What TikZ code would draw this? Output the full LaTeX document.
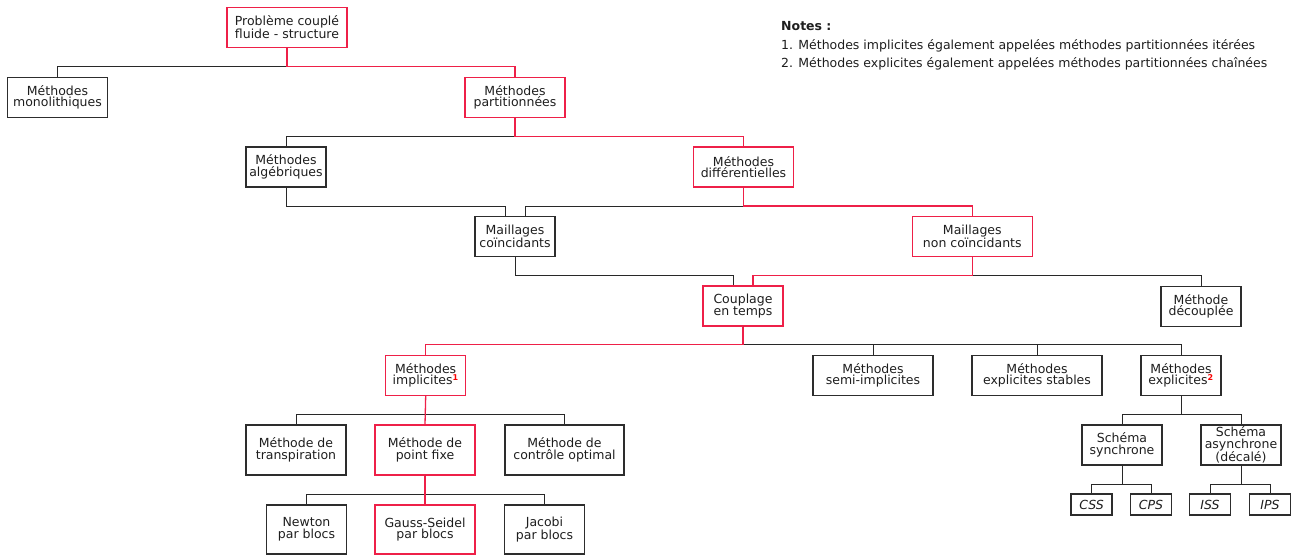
\documentclass[tikz,border=0pt]{standalone}
\usepackage{fontspec}
\setmainfont{DejaVu Sans}
\definecolor{hred}{RGB}{238,32,72}
\definecolor{supred}{RGB}{250,0,0}
\definecolor{boxgray}{RGB}{45,45,45}
\definecolor{linegray}{RGB}{40,40,40}
\definecolor{txt}{RGB}{30,30,30}
\newcommand\fsz{\fontsize{12.5}{11.8}\selectfont}
\newcommand\supmark[1]{\textsuperscript{\color{supred}\bfseries\fontsize{8}{8}\selectfont #1}}
\tikzset{
  box/.style={draw=boxgray, line width=1.2pt, rectangle, inner sep=0pt, align=center, font=\fsz, text=txt},
  rbox/.style={box, draw=hred, line width=1.3pt},
  bl/.style={draw=linegray, line width=1pt},
  rl/.style={draw=hred, line width=1.3pt},
  notetext/.style={anchor=base west, inner sep=0pt, font=\fsz, text=txt}
}
\begin{document}
\begin{tikzpicture}[x=1pt,y=-1pt]
\path[use as bounding box] (0,0) rectangle (1304,555);
% nodes
\node[rbox, minimum width=120, minimum height=40] (prob) at (287,27.5) {Problème couplé\\fluide - structure};
\node[box, minimum width=100, minimum height=40] (mono) at (57.5,97.3) {Méthodes\\monolithiques};
\node[rbox, minimum width=100, minimum height=40] (part) at (515,97.3) {Méthodes\\partitionnées};
\node[box, minimum width=80, minimum height=40] (alg) at (286,167) {Méthodes\\algébriques};
\node[rbox, minimum width=100, minimum height=40] (diff) at (743.5,167) {Méthodes\\différentielles};
\node[box, minimum width=80, minimum height=40] (mc) at (515,236.7) {Maillages\\coïncidants};
\node[rbox, minimum width=120, minimum height=40] (mnc) at (972.3,236.5) {Maillages\\non coïncidants};
\node[rbox, minimum width=80, minimum height=40] (coup) at (743,306) {Couplage\\en temps};
\node[box, minimum width=80, minimum height=40] (dec) at (1201,306.3) {Méthode\\découplée};
\node[rbox, minimum width=80, minimum height=40] (impl) at (425.7,375.3) {Méthodes\\implicites\supmark{1}};
\node[box, minimum width=120, minimum height=40] (semi) at (873,375.3) {Méthodes\\semi-implicites};
\node[box, minimum width=130, minimum height=40] (stab) at (1037,375.3) {Méthodes\\explicites stables};
\node[box, minimum width=80, minimum height=40] (expl) at (1181,375.3) {Méthodes\\explicites\supmark{2}};
\node[box, minimum width=100, minimum height=50] (transp) at (296,450) {Méthode de\\transpiration};
\node[rbox, minimum width=100, minimum height=50] (pfixe) at (425,450) {Méthode de\\point fixe};
\node[box, minimum width=119, minimum height=50] (ctrl) at (564.5,450) {Méthode de\\contrôle optimal};
\node[box, minimum width=80, minimum height=49] (newton) at (306.5,529.5) {Newton\\par blocs};
\node[rbox, minimum width=100, minimum height=49] (gauss) at (425,529.5) {Gauss-Seidel\\par blocs};
\node[box, minimum width=80, minimum height=49] (jacobi) at (544.5,529.5) {Jacobi\\par blocs};
\node[box, minimum width=80, minimum height=40] (ssync) at (1122,445) {Schéma\\synchrone};
\node[box, minimum width=80, minimum height=40] (sasync) at (1241,445) {Schéma\\asynchrone\\(décalé)};
\node[box, minimum width=41, minimum height=21, font=\fsz\itshape] (css) at (1091.5,504.5) {CSS};
\node[box, minimum width=41, minimum height=21, font=\fsz\itshape] (cps) at (1151,504.5) {CPS};
\node[box, minimum width=41, minimum height=21, font=\fsz\itshape] (iss) at (1210,504.5) {ISS};
\node[box, minimum width=41, minimum height=21, font=\fsz\itshape] (ips) at (1270,504.5) {IPS};
% notes
\node[notetext, font=\fsz\bfseries] (n0) at (781,30) {Notes :};
\node[notetext] (n1) at (781,49.5) {1. Méthodes implicites également appelées méthodes partitionnées itérées};
\node[notetext] (n2) at (781,67) {2. Méthodes explicites également appelées méthodes partitionnées chaînées};
% connectors (black first, red on top)
\draw[bl] (prob.south) |- ([yshift=10pt]mono.north) -- (mono.north);
\draw[rl] (prob.south) |- ([yshift=10pt]part.north) -- (part.north);
\draw[bl] (part.south) |- ([yshift=10pt]alg.north) -- (alg.north);
\draw[rl] (part.south) |- ([yshift=10pt]diff.north) -- (diff.north);
\draw[bl] (alg.south) |- ([xshift=-10pt,yshift=10pt]mc.north) -- ([xshift=-10pt]mc.north);
\draw[bl] (diff.south) |- ([xshift=10pt,yshift=10pt]mc.north) -- ([xshift=10pt]mc.north);
\draw[rl] (diff.south) |- ([yshift=10pt]mnc.north) -- (mnc.north);
\draw[bl] (mc.south) |- ([xshift=-10pt,yshift=10pt]coup.north) -- ([xshift=-10pt]coup.north);
\draw[bl] (mnc.south) |- ([yshift=10pt]dec.north) -- (dec.north);
\draw[rl] (mnc.south) |- ([xshift=10pt,yshift=10pt]coup.north) -- ([xshift=10pt]coup.north);
\draw[bl] (coup.south) |- ([yshift=10pt]semi.north) -- (semi.north);
\draw[bl] (coup.south) |- ([yshift=10pt]stab.north) -- (stab.north);
\draw[bl] (coup.south) |- ([yshift=10pt]expl.north) -- (expl.north);
\draw[rl] (coup.south) |- ([yshift=10pt]impl.north) -- (impl.north);
\draw[bl] (impl.south) |- ([yshift=10pt]transp.north) -- (transp.north);
\draw[bl] (impl.south) |- ([yshift=10pt]ctrl.north) -- (ctrl.north);
\draw[rl] (impl.south) -- (pfixe.north);
\draw[bl] (pfixe.south) |- ([yshift=10pt]newton.north) -- (newton.north);
\draw[bl] (pfixe.south) |- ([yshift=10pt]jacobi.north) -- (jacobi.north);
\draw[rl] (pfixe.south) -- (gauss.north);
\draw[bl] (expl.south) |- ([yshift=10pt]ssync.north) -- (ssync.north);
\draw[bl] (expl.south) |- ([yshift=10pt]sasync.north) -- (sasync.north);
\draw[bl] (ssync.south) |- ([yshift=9pt]css.north) -- (css.north);
\draw[bl] (ssync.south) |- ([yshift=9pt]cps.north) -- (cps.north);
\draw[bl] (sasync.south) |- ([yshift=9pt]iss.north) -- (iss.north);
\draw[bl] (sasync.south) |- ([yshift=9pt]ips.north) -- (ips.north);
\end{tikzpicture}
\end{document}
